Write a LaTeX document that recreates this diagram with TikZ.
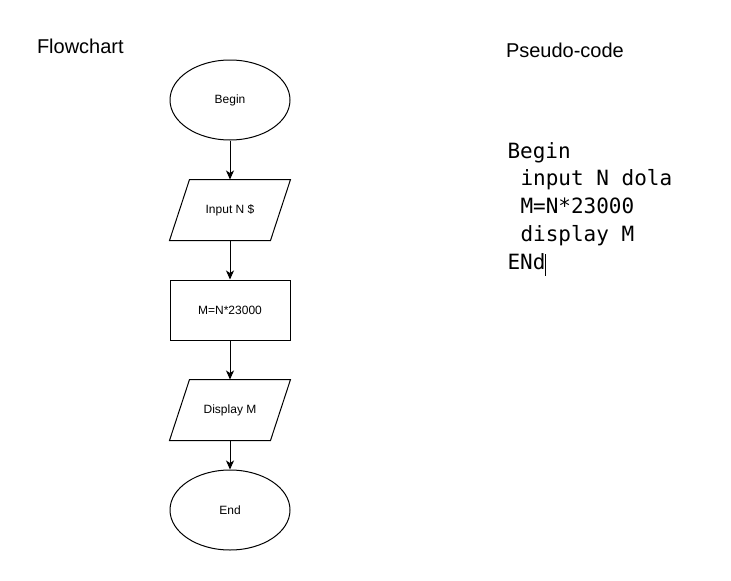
\documentclass[tikz,border=0pt]{standalone}
\usepackage{fontspec}
\setmainfont{Liberation Sans}
\newfontfamily\codefont{DejaVu Sans Mono}
\usetikzlibrary{shapes.geometric,arrows.meta}

\begin{document}
\begin{tikzpicture}
% 1pt = 1px of the page
[x=1pt,y=-1pt,line width=1pt,
 every node/.style={font=\fontsize{12}{14}\selectfont},
 terminal/.style={draw,ellipse,minimum width=120pt,minimum height=80pt,inner sep=0pt},
 iobox/.style={rectangle,minimum width=100pt,minimum height=60pt,inner sep=0pt},
 procbox/.style={draw,rectangle,minimum width=120pt,minimum height=60pt,inner sep=0pt},
 flow/.style={-{Stealth[length=9pt,width=8pt,inset=2.5pt]}},
 title/.style={anchor=base west,inner sep=0pt,font=\fontsize{20}{24}\selectfont}]
\useasboundingbox[fill=white] (0,0) rectangle (731,581);

% headings
\node[title] (fctitle) at (36.5,53) {Flowchart};
\node[title] (pctitle) at (505.5,57) {Pseudo-code};

% flowchart
\node[terminal] (begin) at (230,100) {Begin};
\node[iobox] (input) at (230,210) {Input N \$};
\node[procbox] (calc) at (230,310) {M=N*23000};
\node[iobox] (display) at (230,410) {Display M};
\node[terminal] (end) at (230,510) {End};

% slanted outlines of the input/output boxes (20 = horizontal shift)
\foreach \n in {input,display}{
	\draw[line join=miter] ([xshift=10pt]\n.north west) -- ([xshift=10pt]\n.north east)
		-- ([xshift=-10pt]\n.south east) -- ([xshift=-10pt]\n.south west) -- cycle;
}

\draw[flow] (begin) -- (input);
\draw[flow] (input) -- (calc);
\draw[flow] (calc) -- (display);
\draw[flow] (display) -- (end);

% pseudo-code, one line per node
\foreach \i/\x/\txt in {0/507/Begin,1/520/input N dola,2/520/M=N*23000,3/520/display M,4/507/ENd}{
	\node[anchor=base west,inner sep=0pt,font=\codefont\fontsize{21}{24}\selectfont]
		(code\i) at (\x,{158+27.75*\i}) {\txt};
}
% text cursor
\draw[line width=0.9pt] (code4.base east) ++(0,-15) coordinate (cur) -- ++(0,22);
\end{tikzpicture}
\end{document}
